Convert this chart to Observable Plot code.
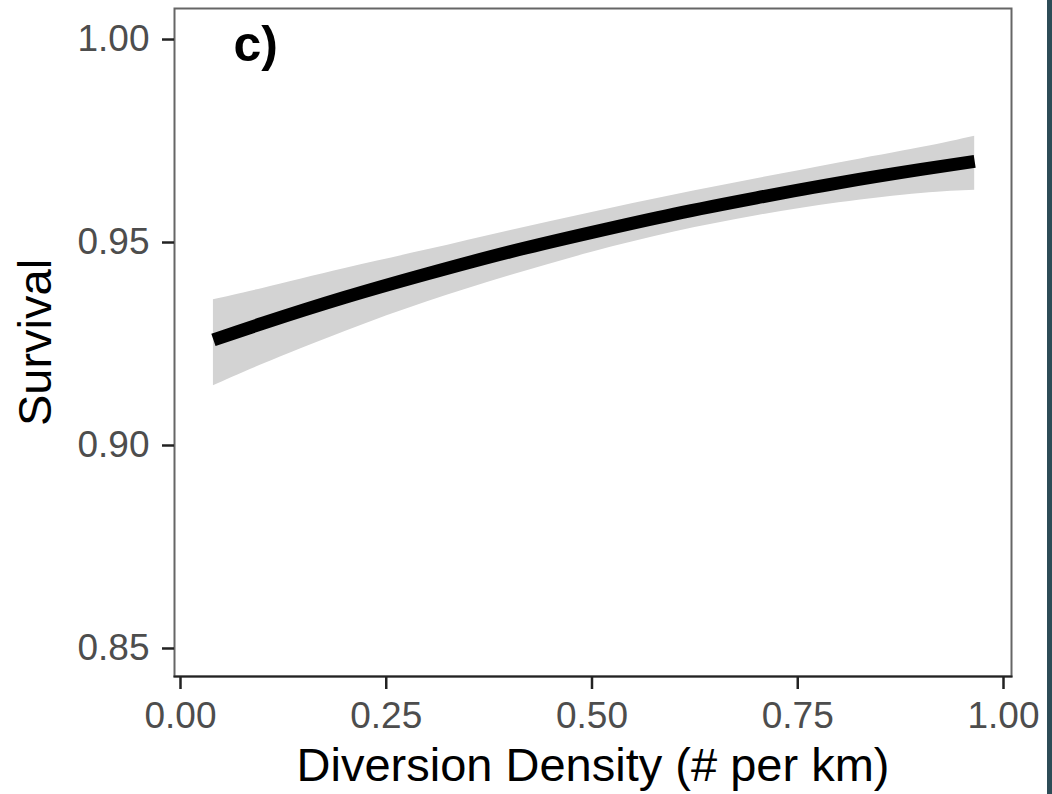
<!DOCTYPE html>
<html>
<head>
<meta charset="utf-8">
<script src="https://cdn.jsdelivr.net/npm/d3@7"></script>
<script src="https://cdn.jsdelivr.net/npm/@observablehq/plot@0.6"></script>
<style>
  html, body { margin: 0; padding: 0; background: #fff; }
  #wrap { position: relative; width: 1052px; height: 794px; overflow: hidden; }
  #strip { position: absolute; left: 1047px; top: 0; width: 5px; height: 794px; background: #2d4c57; }
</style>
</head>
<body>
<div id="wrap"><div id="strip"></div></div>
<script>
// Diversion density (# per km)
const density = [0.04, 0.1, 0.2, 0.3, 0.4, 0.5, 0.6, 0.7, 0.8, 0.9, 0.965];
// Estimated survival
const survival = [0.9260, 0.9301, 0.9365, 0.9423, 0.9477, 0.9525, 0.9570, 0.9610, 0.9647, 0.9680, 0.9700];
// Confidence band
const lower = [0.9147, 0.9200, 0.9281, 0.9354, 0.9418, 0.9476, 0.9526, 0.9566, 0.9598, 0.9621, 0.9629];
const upper = [0.9359, 0.9387, 0.9436, 0.9482, 0.9529, 0.9574, 0.9617, 0.9657, 0.9696, 0.9734, 0.9762];
// Axis ticks
const xTicks = [0, 0.25, 0.5, 0.75, 1];
const yTicks = [0.85, 0.90, 0.95, 1.00];
const panelLabel = "c)";
const xTitle = "Diversion Density (# per km)";
const yTitle = "Survival";

const rows = density.map((d, i) => ({x: d, y: survival[i], lo: lower[i], hi: upper[i]}));

const font = "'Liberation Sans', Arial, Helvetica, sans-serif";

const chart = Plot.plot({
  width: 1052,
  height: 794,
  marginLeft: 174,
  marginRight: 41,
  marginTop: 8,
  marginBottom: 118,
  style: {fontFamily: font, background: "transparent", overflow: "visible"},
  x: {domain: [-0.00729, 1.00972]},
  y: {domain: [0.8431, 1.00764]},
  marks: [
    Plot.areaY(rows, {x: "x", y1: "lo", y2: "hi", fill: "#d3d3d3", curve: "natural"}),
    Plot.lineY(rows, {x: "x", y: "y", stroke: "#000", strokeWidth: 13, curve: "natural",
      strokeLinecap: "butt", strokeLinejoin: "round"}),
    Plot.frame({stroke: "#666", strokeWidth: 2}),
    Plot.frame({anchor: "bottom", stroke: "#222", strokeWidth: 2}),
    Plot.axisX({ticks: xTicks, tickFormat: d3.format(".2f"), tickSize: 13, tickPadding: 12,
      fontSize: 37, stroke: "#222", strokeWidth: 2.5, fill: "#4d4d4d", label: null}),
    Plot.axisY({ticks: yTicks, tickFormat: d3.format(".2f"), tickSize: 12, tickPadding: 13,
      fontSize: 37, stroke: "#222", strokeWidth: 2.5, fill: "#4d4d4d", label: null}),
    Plot.text([panelLabel], {frameAnchor: "top-left", dx: 59, dy: 17, text: d => d,
      fontSize: 50, fontWeight: "bold", textAnchor: "start", lineAnchor: "top", fill: "#000"}),
    Plot.text([xTitle], {frameAnchor: "bottom", dy: 104, text: d => d,
      fontSize: 47, lineAnchor: "bottom", textAnchor: "middle", fill: "#000"}),
    Plot.text([yTitle], {frameAnchor: "left", dx: -139, text: d => d,
      fontSize: 47, rotate: -90, textAnchor: "middle", lineAnchor: "middle", fill: "#000"})
  ]
});

document.getElementById("wrap").prepend(chart);
</script>
</body>
</html>
